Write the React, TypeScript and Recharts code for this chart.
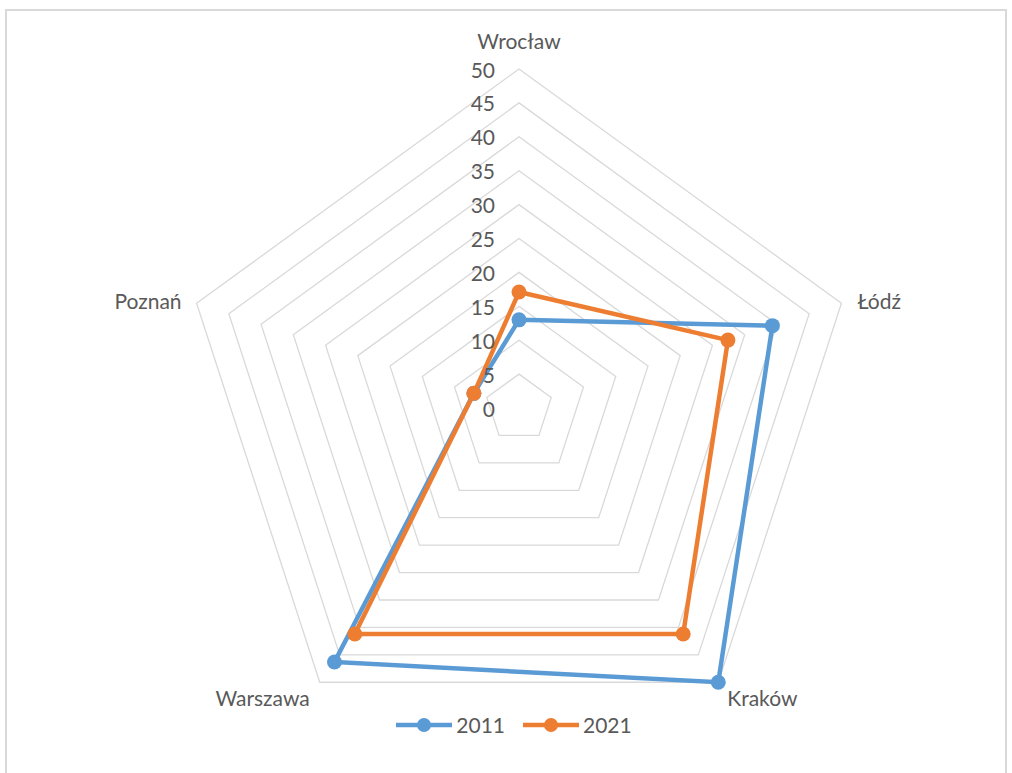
import React from "react";
import { RadarChart, Radar, PolarGrid, PolarAngleAxis, PolarRadiusAxis, Legend } from "recharts";

const cities = ["Wrocław", "Łódź", "Kraków", "Warszawa", "Poznań"];
const values2011 = [13, 39.3, 50, 46.3, 7];
const values2021 = [17.1, 32.4, 41.2, 41.2, 7];
const radiusTicks = [0, 5, 10, 15, 20, 25, 30, 35, 40, 45, 50];

const data = cities.map((city, i) => ({ city, y2011: values2011[i], y2021: values2021[i] }));

const CX = 519;
const CY = 408;
const R = 339;
const FONT = "Lato, 'Open Sans', sans-serif";
const TEXT = "#595959";
const BLUE = "#5B9BD5";
const ORANGE = "#ED7D31";

// label offsets from each outer vertex
const labelOffsets = [
  { dx: 0, dy: -29, anchor: "middle" },
  { dx: 16, dy: -3, anchor: "start" },
  { dx: 9, dy: 15, anchor: "start" },
  { dx: -10, dy: 15, anchor: "end" },
  { dx: -15, dy: -3, anchor: "end" },
];

const AngleTick = (props: any) => {
  const { payload, index } = props;
  const rad = (payload.coordinate * Math.PI) / 180;
  const vx = CX + R * Math.cos(rad);
  const vy = CY - R * Math.sin(rad);
  const off = labelOffsets[index] || { dx: 0, dy: 0, anchor: "middle" };
  return (
    <text
      x={vx + off.dx}
      y={vy + off.dy}
      textAnchor={off.anchor}
      dominantBaseline="central"
      fill={TEXT}
      fontSize={21}
      fontFamily={FONT}
    >
      {payload.value}
    </text>
  );
};

const RadiusTick = (props: any) => {
  const { payload } = props;
  const y = CY - (payload.value / 50) * R;
  return (
    <text x={CX - 24} y={y} textAnchor="end" dominantBaseline="central" fill={TEXT} fontSize={21} fontFamily={FONT}>
      {payload.value}
    </text>
  );
};

const makeDot = (color: string) => (p: any) => (
  <circle key={`${color}-${p.index}`} cx={p.cx} cy={p.cy} r={7.5} fill={color} stroke="none" />
);

const LegendContent = () => {
  const items = [
    { label: "2011", color: BLUE },
    { label: "2021", color: ORANGE },
  ];
  return (
    <div style={{ display: "flex", justifyContent: "center", gap: 18, paddingLeft: 16, fontFamily: FONT, fontSize: 21, color: TEXT }}>
      {items.map((it) => (
        <div key={it.label} style={{ display: "flex", alignItems: "center" }}>
          <svg width={56} height={20}>
            <line x1={0} y1={10} x2={56} y2={10} stroke={it.color} strokeWidth={4.5} />
            <circle cx={28} cy={10} r={7} fill={it.color} />
          </svg>
          <span style={{ marginLeft: 4 }}>{it.label}</span>
        </div>
      ))}
    </div>
  );
};

export default function App() {
  return (
    <div style={{ position: "absolute", left: 0, top: 0, width: 1012, height: 773, overflow: "hidden", background: "#fff" }}>
      <div
        style={{
          position: "absolute",
          left: 5,
          top: 9,
          width: 1002,
          height: 800,
          border: "2px solid #d9d9d9",
          boxSizing: "border-box",
        }}
      />
      <div style={{ position: "absolute", left: 0, top: 0 }}>
        <RadarChart width={1012} height={773} data={data} cx={CX} cy={CY} outerRadius={R} startAngle={90} endAngle={-270}>
          <PolarGrid gridType="polygon" radialLines={false} stroke="#d9d9d9" strokeWidth={1.3} polarRadius={radiusTicks.map((t) => (t / 50) * R).filter((r) => r > 0)} />
          <PolarAngleAxis dataKey="city" tick={AngleTick} tickLine={false} axisLine={false} />
          <PolarRadiusAxis
            angle={90}
            domain={[0, 50]}
            ticks={radiusTicks as any}
            tickCount={11}
            tick={RadiusTick}
            axisLine={false}
            tickLine={false}
          />
          <Radar
            name="2011"
            dataKey="y2011"
            stroke={BLUE}
            strokeWidth={4.5}
            fill="none"
            fillOpacity={0}
            dot={makeDot(BLUE)}
            isAnimationActive={false}
          />
          <Radar
            name="2021"
            dataKey="y2021"
            stroke={ORANGE}
            strokeWidth={4.5}
            fill="none"
            fillOpacity={0}
            dot={makeDot(ORANGE)}
            isAnimationActive={false}
          />
          <Legend content={LegendContent} wrapperStyle={{ top: 712, left: 0, width: 1012 }} />
        </RadarChart>
      </div>
    </div>
  );
}
